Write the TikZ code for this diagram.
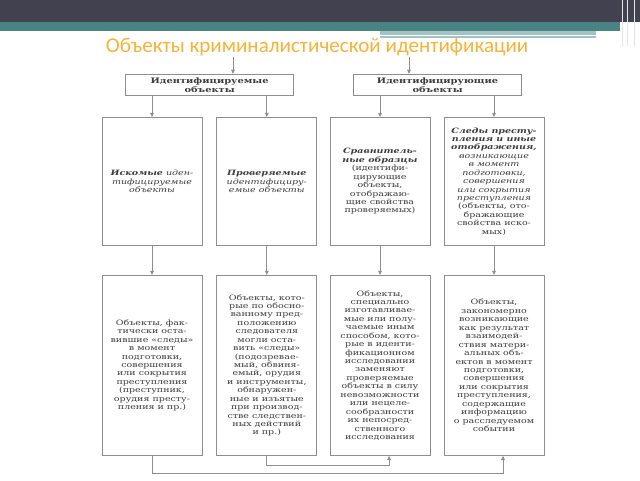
\documentclass[tikz,border=0pt]{standalone}
\usepackage{fontspec}
\setmainfont{Carlito}
\newfontfamily\boxfont[FakeStretch=1.3]{DejaVu Serif}
\usetikzlibrary{arrows.meta}
\definecolor{slidedark}{HTML}{41414F}
\definecolor{slideteal}{HTML}{4A8384}
\definecolor{slidelight}{HTML}{A3C2C4}
\definecolor{titleorange}{HTML}{F4B43A}
\definecolor{boxgray}{HTML}{8E8E8E}
\definecolor{boxtext}{HTML}{3C3C3C}
\pgfdeclarelayer{edgelayer}
\pgfdeclarelayer{nodelayer}
\pgfsetlayers{edgelayer,nodelayer,main}
\tikzstyle{none}=[inner sep=0pt]
\tikzstyle{title}=[inner sep=0pt,font=\fontsize{15}{18}\selectfont,text=titleorange]
\tikzstyle{head}=[rectangle,draw=boxgray,fill=white,line width=0.6pt,minimum width=4.2cm,minimum height=0.525cm,inner sep=1pt,align=center,text=boxtext,font=\boxfont\fontsize{5.4}{6.2}\selectfont\bfseries]
\tikzstyle{kind}=[rectangle,draw=boxgray,fill=white,line width=0.6pt,minimum width=2.5cm,minimum height=3.2cm,inner sep=1pt,align=center,text=boxtext,font=\boxfont\fontsize{5.2}{6}\selectfont]
\tikzstyle{item}=[kind,minimum height=4.5cm]
\tikzstyle{simple}=[-,draw=boxgray,line width=0.6pt]
\tikzstyle{arrow}=[-{Triangle[length=3pt,width=2.6pt]},draw=boxgray,line width=0.6pt]

\begin{document}
\begin{tikzpicture}
	\begin{pgfonlayer}{edgelayer}
		\fill [white] (0, 0) rectangle (16, -12);
		\fill [slidedark] (0, 0) rectangle (16, -0.55);
		\fill [slideteal] (0, -0.55) rectangle (15.5, -0.775);
		\fill [slidelight] (9.5, -0.775) rectangle (14.9, -0.95);
		\draw [white, line width=0.8pt] (9.5, -0.87) to (14.9, -0.87);
		\draw [white!80!gray, line width=0.6pt] (15.55, 0) to (15.55, -1.15);
		\draw [white!80!gray, line width=0.6pt] (15.68, 0) to (15.68, -1.15);
		\draw [white!80!gray, line width=0.6pt] (15.85, 0) to (15.85, -1.15);
		\path [use as bounding box] (0, 0) rectangle (16, -12);
	\end{pgfonlayer}
	\begin{pgfonlayer}{nodelayer}
		\node [style=title] (0) at (7.925, -1.175) {Объекты криминалистической идентификации};
		\node [style=head] (1) at (5.24, -2.11) {Идентифицируемые\\объекты};
		\node [style=head] (2) at (10.94, -2.11) {Идентифицирующие\\объекты};
		\node [style=kind] (3) at (3.8, -4.525) {{\bfseries\itshape Искомые} \itshape иден-\\\itshape тифицируемые\\\itshape объекты};
		\node [style=kind] (4) at (6.67, -4.525) {\bfseries\itshape Проверяемые\\\itshape идентифициру-\\\itshape емые объекты};
		\node [style=kind] (5) at (9.5, -4.525) {\bfseries\itshape Сравнитель-\\\bfseries\itshape ные образцы\\(идентифи-\\цирующие\\объекты,\\отображаю-\\щие свойства\\проверяемых)};
		\node [style=kind] (6) at (12.35, -4.525) {\bfseries\itshape Следы престу-\\\bfseries\itshape пления и иные\\\bfseries\itshape отображения,\\\itshape возникающие\\\itshape в момент\\\itshape подготовки,\\\itshape совершения\\\itshape или сокрытия\\\itshape преступления\\(объекты, ото-\\бражающие\\свойства иско-\\мых)};
		\node [style=item] (7) at (3.8, -9.125) {Объекты, фак-\\тически оста-\\вившие «следы»\\в момент\\подготовки,\\совершения\\или сокрытия\\преступления\\(преступник,\\орудия престу-\\пления и пр.)};
		\node [style=item] (8) at (6.67, -9.125) {Объекты, кото-\\рые по обосно-\\ванному пред-\\положению\\следователя\\могли оста-\\вить «следы»\\(подозревае-\\мый, обвиня-\\емый, орудия\\и инструменты,\\обнаружен-\\ные и изъятые\\при производ-\\стве следствен-\\ных действий\\и пр.)};
		\node [style=item] (9) at (9.5, -9.125) {Объекты,\\специально\\изготавливае-\\мые или полу-\\чаемые иным\\способом, кото-\\рые в иденти-\\фикационном\\исследовании\\заменяют\\проверяемые\\объекты в силу\\невозможности\\или нецеле-\\сообразности\\их непосред-\\ственного\\исследования};
		\node [style=item] (10) at (12.35, -9.125) {Объекты,\\закономерно\\возникающие\\как результат\\взаимодей-\\ствия матери-\\альных объ-\\ектов в момент\\подготовки,\\совершения\\или сокрытия\\преступления,\\содержащие\\информацию\\о расследуемом\\событии};
		\node [style=none] (11) at (5.825, -1.425) {};
		\node [style=none] (12) at (10.225, -1.425) {};
		\node [style=none] (13) at (3.8, -11.825) {};
		\node [style=none] (14) at (12.575, -11.825) {};
		\node [style=none] (15) at (6.67, -11.625) {};
		\node [style=none] (16) at (9.725, -11.625) {};
	\end{pgfonlayer}
	\begin{pgfonlayer}{edgelayer}
		\draw [style=arrow] (11.center) to (11.center |- 1.north);
		\draw [style=arrow] (12.center) to (12.center |- 2.north);
		\draw [style=arrow] (3.north |- 1.south) to (3.north);
		\draw [style=arrow] (4.north |- 1.south) to (4.north);
		\draw [style=arrow] (5.north |- 2.south) to (5.north);
		\draw [style=arrow] (6.north |- 2.south) to (6.north);
		\draw [style=arrow] (3.south) to (7.north);
		\draw [style=arrow] (4.south) to (8.north);
		\draw [style=arrow] (5.south) to (9.north);
		\draw [style=arrow] (6.south) to (10.north);
		\draw [style=arrow] (7.south) to (13.center) to (14.center) to (14.center |- 10.south);
		\draw [style=arrow] (8.south) to (15.center) to (16.center) to (16.center |- 9.south);
	\end{pgfonlayer}
\end{tikzpicture}
\end{document}
